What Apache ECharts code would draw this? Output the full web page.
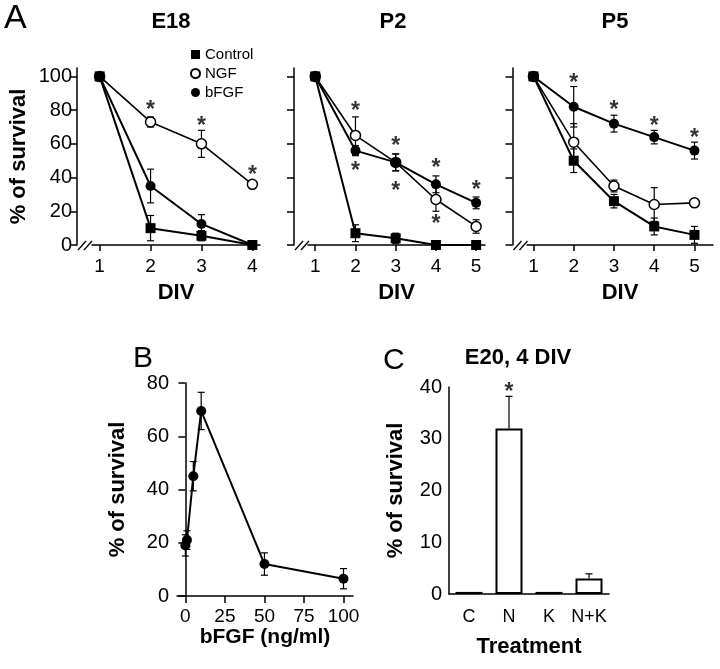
<!DOCTYPE html>
<html>
<head>
<meta charset="utf-8">
<script src="https://cdn.jsdelivr.net/npm/echarts@6/dist/echarts.min.js"></script>
<style>
  html, body { margin: 0; background: #fff; }
  #chart { width: 720px; height: 669px; }
</style>
</head>
<body>
<div id="chart"></div>
<script>
// ---- data ----
const divE18 = [1, 2, 3, 4];
const divP = [1, 2, 3, 4, 5];

const e18Control = [100, 10, 5.5, 0];
const e18ControlErr = [0, 7.5, 3, 0];
const e18NGF = [100, 73, 60, 36];
const e18NGFErr = [0, 3, 8, 1.5];
const e18BFGF = [100, 35, 12.5, 0];
const e18BFGFErr = [0, 10, 5.5, 0];
const e18Stars = [[2, 83], [3, 74], [4, 44.5]];

const p2Control = [100, 7, 4, 0, 0];
const p2ControlErr = [0, 5, 3, 0, 0];
const p2NGF = [100, 65, 49, 27, 11];
const p2NGFErr = [0, 11, 5, 7, 4];
const p2BFGF = [100, 56, 49, 36, 25];
const p2BFGFErr = [0, 3, 5, 5, 3.5];
const p2Stars = [[2, 82.6], [2, 47], [3, 62], [3, 35], [4, 49], [4, 15.5], [5, 36]];

const p5Control = [100, 50, 26, 11, 6];
const p5ControlErr = [0, 7, 4, 5, 5];
const p5NGF = [100, 61, 35, 24, 25];
const p5NGFErr = [0, 11, 3.5, 10, 1.5];
const p5BFGF = [100, 82, 72, 64, 56];
const p5BFGFErr = [0, 12, 5, 4, 5];
const p5Stars = [[2, 99.5], [3, 83], [4, 73.5], [5, 66.5]];

const bfgfDose = [0, 1, 5, 10, 50, 100];
const bfgfSurvival = [19, 21, 45, 69.5, 12, 6.5];
const bfgfErr = [4, 3.5, 5.5, 7, 4.2, 3.8];

const treatments = ["C", "N", "K", "N+K"];
const treatSurvival = [0.4, 32, 0.4, 3];
const treatErr = [0, 6.2, 0, 0.9];
const treatStars = [["N", 40]];

const yTicksA = [0, 20, 40, 60, 80, 100];
const doseTicks = [0, 25, 50, 75, 100];

// ---- layout ----
const FONT = "Liberation Sans";
const gridA = [
  { left: 92, top: 68, width: 168, height: 177 },
  { left: 308, top: 68, width: 177, height: 177 },
  { left: 527, top: 68, width: 186, height: 177 },
];
const yOffsetA = [15, 14, 14.5];
const xRangeA = [[0.85, 4.15], [0.82, 5.22], [0.84, 5.46]];

const axisLine = { show: true, lineStyle: { color: "#000", width: 1.5 } };

// vertical error bar with caps, data = [x, y, errUp, errDown]
function errRender(params, api) {
  const x = api.value(0), y = api.value(1), up = api.value(2), dn = api.value(3);
  if (!up && !dn) return;
  const hi = api.coord([x, y + up]);
  const lo = api.coord([x, y - dn]);
  const c = 3.5;
  const st = { stroke: "#000", lineWidth: 1.2 };
  const kids = [{ type: "line", shape: { x1: hi[0], y1: hi[1], x2: lo[0], y2: lo[1] }, style: st }];
  if (up) kids.push({ type: "line", shape: { x1: hi[0] - c, y1: hi[1], x2: hi[0] + c, y2: hi[1] }, style: st });
  if (dn) kids.push({ type: "line", shape: { x1: lo[0] - c, y1: lo[1], x2: lo[0] + c, y2: lo[1] }, style: st });
  return { type: "group", children: kids };
}

const markers = {
  Control: { symbol: "rect", symbolSize: 10, itemStyle: { color: "#000" }, lw: 2 },
  NGF: { symbol: "circle", symbolSize: 10, itemStyle: { color: "#fff", borderColor: "#000", borderWidth: 1.5 }, lw: 1.6 },
  bFGF: { symbol: "circle", symbolSize: 10, itemStyle: { color: "#000" }, lw: 2 },
};

function lineSeries(name, idx, xs, ys) {
  const m = markers[name];
  return {
    name: name,
    type: "line",
    xAxisIndex: idx,
    yAxisIndex: idx,
    data: xs.map((x, i) => [x, ys[i]]),
    symbol: m.symbol,
    symbolSize: m.symbolSize,
    showAllSymbol: true,
    itemStyle: m.itemStyle,
    lineStyle: { color: "#000", width: m.lw },
    z: 3,
  };
}

function errSeries(idx, xs, ys, errs, upOnly) {
  return {
    type: "custom",
    xAxisIndex: idx,
    yAxisIndex: idx,
    renderItem: errRender,
    data: xs.map((x, i) => [x, ys[i], errs[i], upOnly ? 0 : errs[i]]),
    silent: true,
    z: 2,
  };
}

function starSeries(idx, pts) {
  return {
    type: "scatter",
    xAxisIndex: idx,
    yAxisIndex: idx,
    data: pts,
    symbolSize: 1,
    itemStyle: { color: "transparent" },
    label: { show: true, position: "inside", formatter: "*", fontSize: 23, fontWeight: "bold", color: "#000", offset: [0, 6] },
    silent: true,
    z: 5,
  };
}

const panels = [
  [divE18, e18Control, e18ControlErr, e18NGF, e18NGFErr, e18BFGF, e18BFGFErr, e18Stars],
  [divP, p2Control, p2ControlErr, p2NGF, p2NGFErr, p2BFGF, p2BFGFErr, p2Stars],
  [divP, p5Control, p5ControlErr, p5NGF, p5NGFErr, p5BFGF, p5BFGFErr, p5Stars],
];

const grids = [];
const xAxes = [];
const yAxes = [];
const series = [];
const graphics = [];

panels.forEach((p, i) => {
  const [xs, ctl, ctlE, ngf, ngfE, bf, bfE, stars] = p;
  grids.push(gridA[i]);
  xAxes.push({
    gridIndex: i,
    type: "value",
    min: xRangeA[i][0],
    max: xRangeA[i][1],
    name: "DIV",
    nameLocation: "middle",
    nameGap: 37,
    nameTextStyle: { fontSize: 22, fontWeight: "bold", color: "#000" },
    axisLine: axisLine,
    axisTick: { customValues: xs, length: 6, lineStyle: { color: "#000", width: 1.5 } },
    axisLabel: { customValues: xs, fontSize: 19, color: "#000", margin: 12 },
    splitLine: { show: false },
  });
  yAxes.push({
    gridIndex: i,
    type: "value",
    min: 0,
    max: 105,
    offset: yOffsetA[i],
    name: i === 0 ? "% of survival" : "",
    nameLocation: "middle",
    nameGap: 47,
    nameTextStyle: { fontSize: 22, fontWeight: "bold", color: "#000" },
    axisLine: axisLine,
    axisTick: { customValues: yTicksA, length: 7, lineStyle: { color: "#000", width: 1.5 } },
    axisLabel: { show: i === 0, customValues: yTicksA, fontSize: 20, color: "#000", margin: 5 },
    splitLine: { show: false },
  });
  series.push(errSeries(i, xs, ctl, ctlE));
  series.push(errSeries(i, xs, ngf, ngfE));
  series.push(errSeries(i, xs, bf, bfE));
  series.push(lineSeries("NGF", i, xs, ngf));
  series.push(lineSeries("bFGF", i, xs, bf));
  series.push(lineSeries("Control", i, xs, ctl));
  series.push(starSeries(i, stars));

  // axis break marks "//"
  const g = gridA[i];
  const by = g.top + g.height;
  [0, 6].forEach((dx) => {
    graphics.push({
      type: "line",
      shape: { x1: g.left - yOffsetA[i] + 1 + dx, y1: by + 5, x2: g.left - yOffsetA[i] + 9 + dx, y2: by - 4 },
      style: { stroke: "#000", lineWidth: 1.3 },
    });
  });
});

// panel B
grids.push({ left: 177, top: 383, width: 176, height: 213 });
xAxes.push({
  gridIndex: 3,
  type: "value",
  min: -5.3,
  max: 106,
  name: "bFGF (ng/ml)",
  nameLocation: "middle",
  nameGap: 27,
  nameTextStyle: { fontSize: 21, fontWeight: "bold", color: "#000" },
  axisLine: axisLine,
  axisTick: { customValues: doseTicks, length: 7, lineStyle: { color: "#000", width: 1.5 } },
  axisLabel: { customValues: doseTicks, fontSize: 19, color: "#000", margin: 11 },
  splitLine: { show: false },
});
yAxes.push({
  gridIndex: 3,
  type: "value",
  min: 0,
  max: 80,
  interval: 20,
  name: "% of survival",
  nameLocation: "middle",
  nameGap: 48,
  nameTextStyle: { fontSize: 22, fontWeight: "bold", color: "#000" },
  axisLine: axisLine,
  axisTick: { length: 7, lineStyle: { color: "#000", width: 1.5 } },
  axisLabel: { fontSize: 20, color: "#000", margin: 8 },
  splitLine: { show: false },
});
series.push(errSeries(3, bfgfDose, bfgfSurvival, bfgfErr));
series.push({
  name: "dose",
  type: "line",
  xAxisIndex: 3,
  yAxisIndex: 3,
  data: bfgfDose.map((x, i) => [x, bfgfSurvival[i]]),
  symbol: "circle",
  symbolSize: 10,
  showAllSymbol: true,
  itemStyle: { color: "#000" },
  lineStyle: { color: "#000", width: 2 },
  z: 3,
});

// panel C
grids.push({ left: 449, top: 387, width: 160, height: 207 });
xAxes.push({
  gridIndex: 4,
  type: "category",
  data: treatments,
  name: "Treatment",
  nameLocation: "middle",
  nameGap: 42,
  nameTextStyle: { fontSize: 22, fontWeight: "bold", color: "#000" },
  axisLine: axisLine,
  axisTick: { alignWithLabel: true, interval: 0, length: 8, lineStyle: { color: "#000", width: 1.5 } },
  axisLabel: { interval: 0, fontSize: 18, color: "#000", margin: 14 },
  splitLine: { show: false },
});
yAxes.push({
  gridIndex: 4,
  type: "value",
  min: 0,
  max: 40,
  interval: 10,
  name: "% of survival",
  nameLocation: "middle",
  nameGap: 42,
  nameTextStyle: { fontSize: 22, fontWeight: "bold", color: "#000" },
  axisLine: axisLine,
  axisTick: { length: 7, lineStyle: { color: "#000", width: 1.5 } },
  axisLabel: { fontSize: 20, color: "#000", margin: 7 },
  splitLine: { show: false },
});
series.push({
  name: "treatment",
  type: "bar",
  xAxisIndex: 4,
  yAxisIndex: 4,
  data: treatSurvival,
  barWidth: 27,
  itemStyle: { color: "#fff", borderColor: "#000", borderWidth: 2 },
  z: 2,
});
series.push(errSeries(4, [0, 1, 2, 3], treatSurvival, treatErr, true));
series.push(starSeries(4, treatStars));

// titles and panel letters
const texts = [
  ["A", 4, 2, "normal 34px", "left", "top"],
  ["E18", 171, 22, "bold 22px", "center", "middle"],
  ["P2", 393, 22, "bold 22px", "center", "middle"],
  ["P5", 615, 22, "bold 22px", "center", "middle"],
  ["B", 133, 344, "normal 30px", "left", "top"],
  ["C", 383, 346, "normal 30px", "left", "top"],
  ["E20, 4 DIV", 518, 358, "bold 22px", "center", "middle"],
];
texts.forEach(([t, x, y, f, a, v]) => {
  graphics.push({
    type: "text",
    x: x,
    y: y,
    style: { text: t, font: f + ' "' + FONT + '"', fill: "#000", align: a, verticalAlign: v, textAlign: a, textVerticalAlign: v },
  });
});

const chart = echarts.init(document.getElementById("chart"));
chart.setOption({
  backgroundColor: "#fff",
  animation: false,
  textStyle: { fontFamily: FONT, color: "#000" },
  legend: {
    orient: "vertical",
    left: 185,
    top: 42,
    itemWidth: 9,
    itemHeight: 9,
    itemGap: 4,
    selectedMode: false,
    data: [
      { name: "Control", icon: "rect" },
      { name: "NGF", icon: "circle" },
      { name: "bFGF", icon: "circle" },
    ],
    textStyle: { fontSize: 15, color: "#000" },
  },
  grid: grids,
  xAxis: xAxes,
  yAxis: yAxes,
  series: series,
  graphic: graphics,
});

window.addEventListener("resize", () => chart.resize());
</script>
</body>
</html>
